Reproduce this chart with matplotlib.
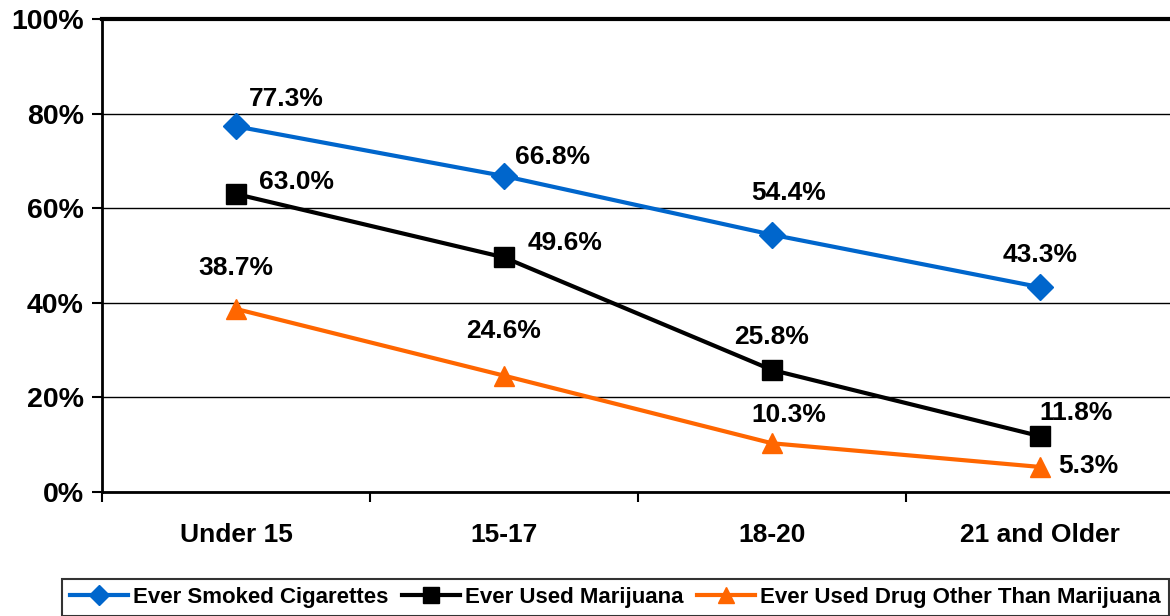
import matplotlib
matplotlib.use("Agg")
import matplotlib.pyplot as plt
import numpy as np

# ── data ──────────────────────────────────────────────────────────────────────
age_groups = ["Under 15", "15-17", "18-20", "21 and Older"]
cigarettes = [77.3, 66.8, 54.4, 43.3]
marijuana = [63.0, 49.6, 25.8, 11.8]
other_drug = [38.7, 24.6, 10.3, 5.3]
series_names = ["Ever Smoked Cigarettes", "Ever Used Marijuana",
                "Ever Used Drug Other Than Marijuana"]

# ── styling ───────────────────────────────────────────────────────────────────
BLUE = "#0066CC"
BLACK = "#000000"
ORANGE = "#FF6600"

plt.rcParams.update({
    "font.family": ["Liberation Sans", "DejaVu Sans"],
    "font.weight": "bold",
    "font.size": 19,
})

fig = plt.figure(figsize=(11.7, 6.16), dpi=100)
ax = fig.add_axes([102 / 1170, 124 / 616, 1072 / 1170, 473 / 616])

x = np.arange(len(age_groups)) + 0.5

# label offsets in pixels (dx, dy) for each series / point
offsets = {
    "cig": [(50, 27), (49, 19), (17, 42), (0, 32)],
    "mj": [(61, 12), (61, 14), (0, 33), (36, 23)],
    "oth": [(0, 41), (0, 45), (17, 28), (48, 1)],
}

styles = [
    ("cig", cigarettes, BLUE, "D", 13),
    ("mj", marijuana, BLACK, "s", 14),
    ("oth", other_drug, ORANGE, "^", 15),
]

handles = []
for (key, vals, col, mk, ms), name in zip(styles, series_names):
    h, = ax.plot(x, vals, color=col, lw=3, marker=mk, ms=ms,
                 markeredgecolor=col, label=name, clip_on=False, zorder=3)
    handles.append(h)
    for xi, v, (dx, dy) in zip(x, vals, offsets[key]):
        ax.annotate(f"{v:.1f}%", (xi, v), xytext=(dx, dy),
                    textcoords="offset pixels", ha="center", va="center",
                    fontsize=19, fontweight="bold", color="black")

ax.set_xlim(0, 4)
ax.set_ylim(0, 100)
ax.set_yticks(np.arange(0, 101, 20))
ax.set_yticklabels([f"{t}%" for t in range(0, 101, 20)], fontsize=20.5)
ax.set_xticks(np.arange(0, 5))
ax.set_xticklabels([])
ax.set_xticks(x, minor=True)
ax.set_xticklabels(age_groups, minor=True)
ax.tick_params(axis="x", which="minor", length=0, pad=22)
ax.tick_params(axis="x", which="major", length=7, width=1.5)
ax.tick_params(axis="y", length=7, width=1.5, pad=6)

ax.yaxis.grid(True, color="black", lw=1)
ax.set_axisbelow(True)
ax.spines["right"].set_visible(False)
ax.spines["top"].set_linewidth(3)
ax.spines["left"].set_linewidth(2)
ax.spines["bottom"].set_linewidth(2)

leg = fig.legend(handles=handles, loc="upper left", ncol=3,
                 bbox_to_anchor=(62 / 1170, 1 - 579 / 616),
                 borderaxespad=0, fontsize=16, handlelength=2.6,
                 handletextpad=0.25, columnspacing=0.6, borderpad=0.35,
                 frameon=True, fancybox=False, edgecolor="black",
                 markerscale=0.8)
leg.get_frame().set_linewidth(1.5)

fig.savefig("out.png", dpi=100)
